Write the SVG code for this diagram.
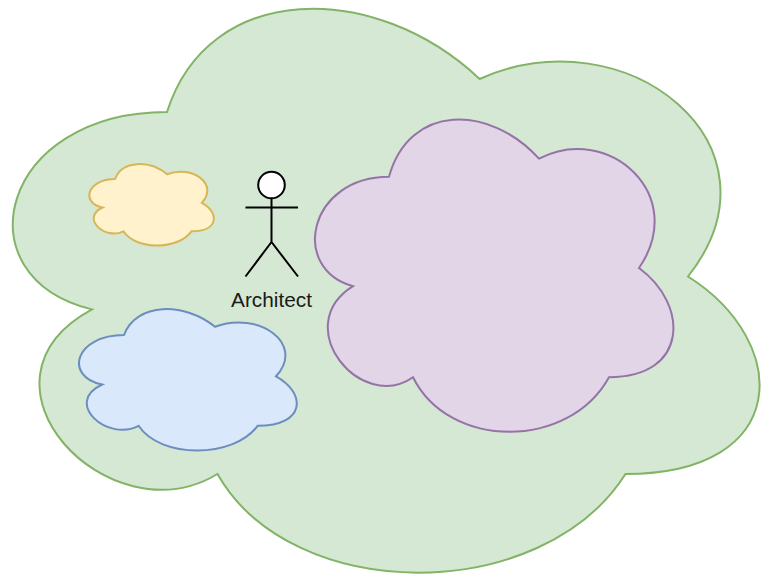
<svg xmlns="http://www.w3.org/2000/svg" width="769" height="577" viewBox="0 0 769 577">
<style>
.c{stroke-width:2;stroke-miterlimit:10}
.a{fill:#ffffff;stroke:#000000;stroke-width:2;stroke-miterlimit:10}
.l{fill:none;stroke:#000000;stroke-width:2;stroke-miterlimit:10}
text{font-family:"Liberation Sans",Arial,sans-serif;font-size:20.8px;fill:#1a1a1a}
</style>
<rect width="769" height="577" fill="#ffffff"/>
<g id="cloud-green"><path class="c" fill="#d5e8d4" stroke="#82b366" d="M167 112C0.3 112 -41.4 276.5 92 309.4C-41.4 381.8 108.6 539.7 217.5 474C292 605.5 542 605.5 625.5 474C792 474 792 342.3 688 276.5C792 144.9 625.5 13.3 479.6 79C375.4 -19.6 208.7 -19.6 167 112Z"/></g>
<g id="cloud-purple"><path class="c" fill="#e1d5e7" stroke="#9673a6" d="M389 176.8C309 176.8 289 268 353 286.2C289 326.2 361 413.6 413 377.2C449 450 569 450 609 377.2C689 377.2 689 304.4 639 268C689 195.2 609 122.4 539 158.6C489 103.8 409 103.8 389 176.8Z"/></g>
<g id="cloud-blue"><path class="c" fill="#dae8fc" stroke="#6c8ebf" d="M124 335C75.4 335 63.2 376.3 102.1 384.5C63.2 402.7 107 442.3 138.6 425.8C160.4 458.8 233.3 458.8 257.6 425.8C306.2 425.8 306.2 392.8 276 376.3C306.2 343.3 257.6 310.3 215 326.8C184.7 302 136.1 302 124 335Z"/></g>
<g id="cloud-yellow"><path class="c" fill="#fff2cc" stroke="#d6b656" d="M115 179C87.3 179 80.3 202.8 102.5 207.5C80.3 218 105.3 240.8 123.4 231.3C135.9 250.3 177.6 250.3 191.5 231.3C219.3 231.3 219.3 212.3 201.9 202.8C219.3 183.8 191.5 164.8 167.2 174.3C149.8 160 122 160 115 179Z"/></g>
<g id="actor-architect">
<circle class="a" cx="271.5" cy="185" r="13.3"/>
<path class="l" d="M271.5 198.3V242M245.5 207.5H298M271.5 242L245.5 276.5M271.5 242L298 276.5"/>
<text x="271.5" y="307" text-anchor="middle">Architect</text>
</g>
</svg>
